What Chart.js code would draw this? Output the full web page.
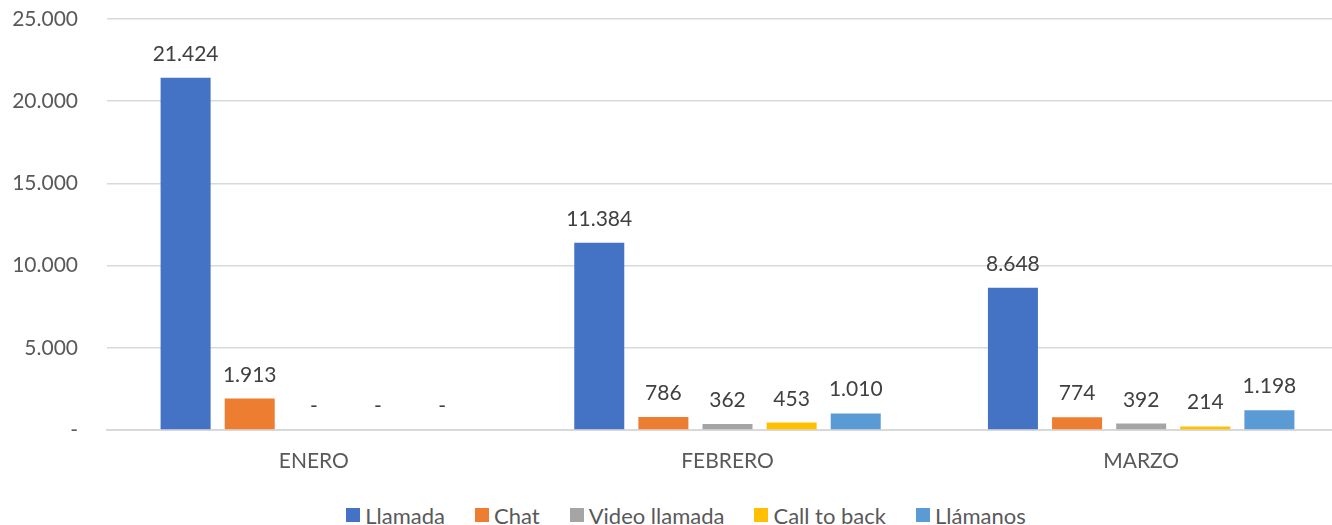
<!DOCTYPE html>
<html>
<head>
<meta charset="utf-8">
<script src="https://cdn.jsdelivr.net/npm/chart.js@4"></script>
<style>
  html, body { margin: 0; padding: 0; background: #fff; overflow: hidden; }
  #page { position: relative; width: 1372px; height: 525px; }
  #wrap { width: 1372px; height: 490px; }
  #legend-container {
    position: absolute; left: 0; top: 503px; width: 1372px; height: 24px;
    display: flex; justify-content: center; align-items: center;
    font-family: Lato, "Open Sans", sans-serif; font-size: 22px; color: #595959;
  }
  #legend-container div { display: flex; align-items: center; margin: 0 15px; white-space: nowrap; }
  #legend-container span.box { width: 14px; height: 14px; margin-right: 5px; display: inline-block; }
</style>
</head>
<body>
<div id="page">
  <div id="wrap"><canvas id="myChart"></canvas></div>
  <div id="legend-container"></div>
</div>
<script>
/* contactos por canal / enero - marzo */
const MESES = ['ENERO', 'FEBRERO', 'MARZO'];

const LLAMADA = [21424, 11384, 8648];
const CHAT = [1913, 786, 774];
const VIDEO_LLAMADA = [0, 362, 392];
const CALL_TO_BACK = [0, 453, 214];
const LLAMANOS = [0, 1010, 1198];

const Y_TICKS = [0, 5000, 10000, 15000, 20000, 25000];

const FONT = 'Lato, "Open Sans", sans-serif';

// 1913 -> "1.913", 0 -> "-"
function formato(v) {
    if (v === 0) return '-';
    return String(v).replace(/\B(?=(\d{3})+(?!\d))/g, '.');
}

// etiquetas encima de cada barra
const etiquetas = {
    id: 'etiquetas',
    afterDatasetsDraw(chart) {
        const ctx = chart.ctx;
        ctx.save();
        ctx.font = '21px ' + FONT;
        ctx.fillStyle = '#404040';
        ctx.textAlign = 'center';
        ctx.textBaseline = 'alphabetic';
        chart.data.datasets.forEach((dataset, i) => {
            const meta = chart.getDatasetMeta(i);
            meta.data.forEach((bar, j) => {
                ctx.fillText(formato(dataset.data[j]), bar.x, bar.y - 17);
            });
        });
        ctx.restore();
    }
};

const data = {
    labels: MESES,
    datasets: [
        { label: 'Llamada', data: LLAMADA, backgroundColor: '#4472C4' },
        { label: 'Chat', data: CHAT, backgroundColor: '#ED7D31' },
        { label: 'Video llamada', data: VIDEO_LLAMADA, backgroundColor: '#A5A5A5' },
        { label: 'Call to back', data: CALL_TO_BACK, backgroundColor: '#FFC000' },
        { label: 'Llámanos', data: LLAMANOS, backgroundColor: '#5B9BD5' }
    ]
};

const options = {
    animation: false,
    responsive: true,
    maintainAspectRatio: false,
    layout: {
        autoPadding: false,
        padding: { left: 7, right: 24, top: 19, bottom: 16 }
    },
    datasets: {
        bar: {
            categoryPercentage: 0.775,
            barPercentage: 0.78
        }
    },
    scales: {
        x: {
            afterFit: (scale) => {
                scale.height = 44;
                scale.paddingLeft = 0;
                scale.paddingRight = 0;
            },
            grid: { display: false, drawTicks: false },
            border: { color: '#d9d9d9', width: 2 },
            ticks: {
                color: '#595959',
                padding: 19,
                font: { family: FONT, size: 21 }
            }
        },
        y: {
            min: 0,
            max: 25000,
            afterFit: (scale) => {
                scale.width = 100;
                scale.paddingTop = 0;
                scale.paddingBottom = 0;
            },
            afterBuildTicks: (scale) => {
                scale.ticks = Y_TICKS.map(v => ({ value: v }));
            },
            grid: { color: '#d9d9d9', lineWidth: 1.5, drawTicks: false },
            border: { display: false },
            ticks: {
                color: '#595959',
                padding: 29,
                font: { family: FONT, size: 21 },
                callback: (v) => formato(v)
            }
        }
    },
    plugins: {
        tooltip: { enabled: false },
        legend: { display: false }
    }
};

const ctx = document.getElementById('myChart');
const myChart = new Chart(ctx, {
    type: 'bar',
    data,
    options,
    plugins: [etiquetas]
});

// leyenda en html
function leyenda() {
    const legend = document.getElementById('legend-container');
    myChart.data.datasets.forEach((dataset) => {
        let item = document.createElement('div');
        let box = document.createElement('span');
        box.className = 'box';
        box.style.backgroundColor = dataset.backgroundColor;
        item.appendChild(box);
        item.appendChild(document.createTextNode(dataset.label));
        legend.appendChild(item);
    });
}
leyenda();
</script>
</body>
</html>
